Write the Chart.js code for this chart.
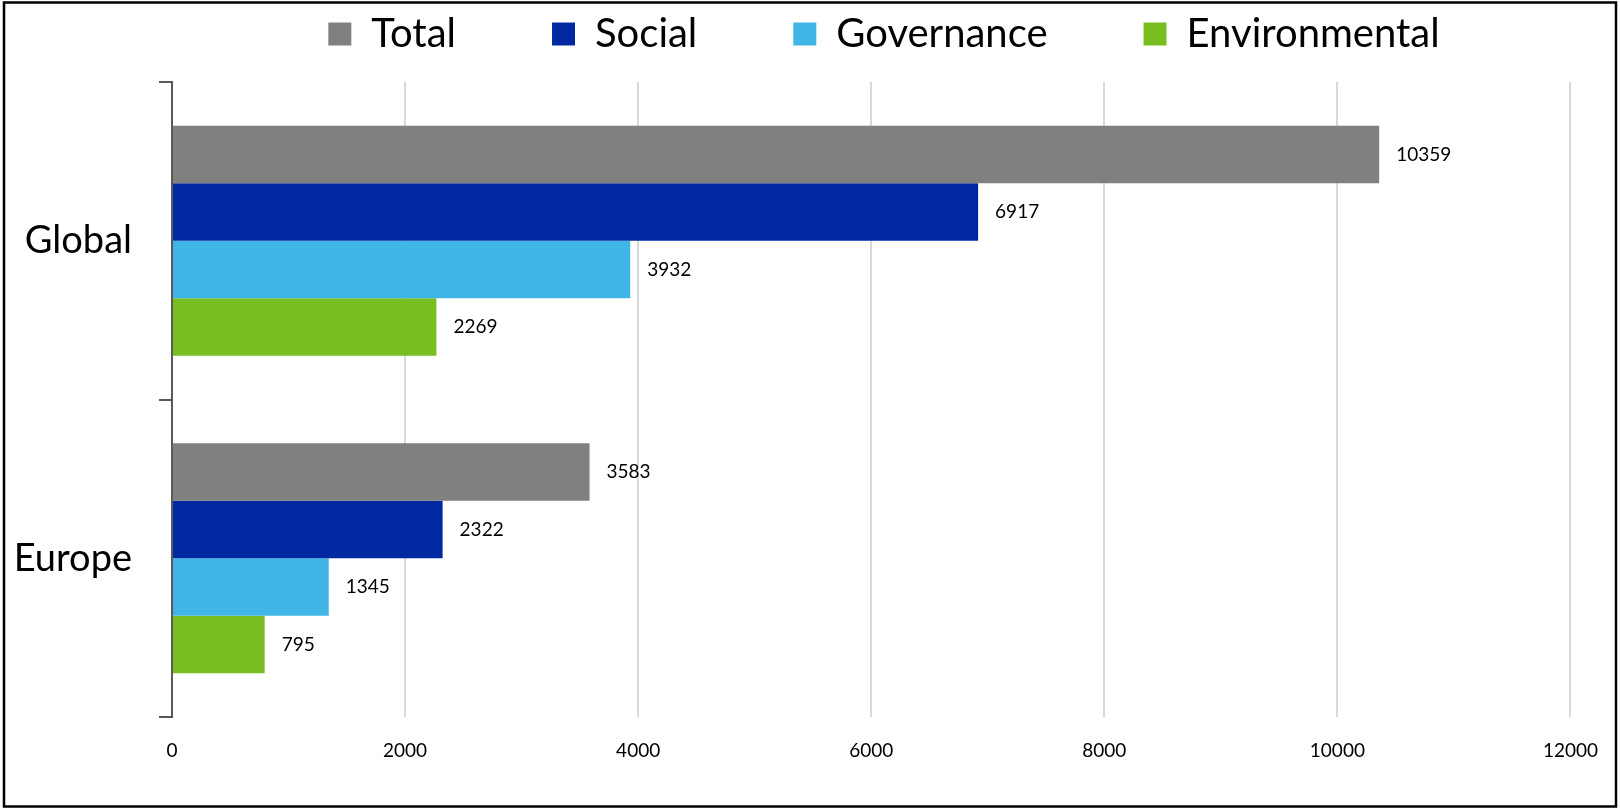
<!DOCTYPE html>
<html>
<head>
<meta charset="utf-8">
<script src="https://cdn.jsdelivr.net/npm/chart.js@4.4.0/dist/chart.umd.min.js"></script>
<style>
    body { margin: 0; background: #fff; }
    #wrap { width: 1620px; height: 810px; position: relative; }
</style>
</head>
<body>
<div id="wrap"><canvas id="myChart" width="1620" height="810"></canvas></div>
<script>
// chart data
var regions = ['Global', 'Europe'];
var seriesNames = ['Total', 'Social', 'Governance', 'Environmental'];
var totalValues = [10359, 3583];
var socialValues = [6917, 2322];
var governanceValues = [3932, 1345];
var environmentalValues = [2269, 795];
var xTicks = [0, 2000, 4000, 6000, 8000, 10000, 12000];

var colors = ['#808080', '#0028A0', '#41B6E6', '#78BE20'];
var values = [totalValues, socialValues, governanceValues, environmentalValues];

var datasets = [];
for (var i = 0; i < seriesNames.length; i++) {
    datasets.push({
        label: seriesNames[i],
        data: values[i],
        backgroundColor: colors[i],
        borderWidth: 0,
        categoryPercentage: 0.725,
        barPercentage: 1.0
    });
}

// value labels at the end of each bar
var barLabels = {
    id: 'barLabels',
    afterDatasetsDraw: function (chart) {
        var ctx = chart.ctx;
        ctx.save();
        ctx.font = '19px Lato';
        ctx.fillStyle = '#000';
        ctx.textAlign = 'left';
        ctx.textBaseline = 'middle';
        chart.data.datasets.forEach(function (ds, di) {
            var meta = chart.getDatasetMeta(di);
            meta.data.forEach(function (bar, j) {
                ctx.fillText(ds.data[j], bar.x + 17, bar.y);
            });
        });
        ctx.restore();
    }
};

// move legend to the right and up, draw the outer frame
var frame = {
    id: 'frame',
    afterLayout: function (chart) {
        var lg = chart.legend;
        lg.left += 98;
        lg.right += 98;
        lg.top = 34 - 96 - 20;
    },
    afterDraw: function (chart) {
        var ctx = chart.ctx;
        ctx.save();
        ctx.strokeStyle = '#000';
        ctx.lineWidth = 2.5;
        ctx.strokeRect(4, 2.5, 1612, 804);
        ctx.restore();
    }
};

const ctx = document.getElementById('myChart');
const myChart = new Chart(ctx, {
    type: 'bar',
    data: {
        labels: regions,
        datasets: datasets
    },
    plugins: [barLabels, frame],
    options: {
        indexAxis: 'y',
        responsive: false,
        animation: false,
        layout: {
            padding: { left: 0, right: 48, top: 0, bottom: 0 }
        },
        plugins: {
            tooltip: { enabled: false },
            legend: {
                position: 'top',
                maxHeight: 82,
                labels: {
                    boxWidth: 23,
                    boxHeight: 23,
                    padding: 96,
                    color: '#000',
                    font: { family: 'Lato', size: 40 }
                }
            }
        },
        scales: {
            x: {
                min: 0,
                max: 12000,
                afterBuildTicks: function (scale) {
                    scale.ticks = xTicks.map(function (v) { return { value: v }; });
                },
                afterFit: function (scale) {
                    scale.height = 93;
                },
                grid: {
                    color: '#d9d9d9',
                    lineWidth: 2,
                    drawTicks: false
                },
                border: { display: false },
                ticks: {
                    padding: 22,
                    color: '#000',
                    font: { family: 'Lato', size: 19 },
                    callback: function (value) { return String(value); }
                }
            },
            y: {
                afterFit: function (scale) {
                    scale.width = 172;
                },
                grid: {
                    drawOnChartArea: false,
                    drawTicks: true,
                    tickLength: 13,
                    color: '#595959',
                    lineWidth: 2
                },
                border: { display: true, color: '#595959', width: 2 },
                ticks: {
                    padding: 27,
                    color: '#000',
                    font: { family: 'Lato', size: 38 }
                }
            }
        }
    }
});
</script>
</body>
</html>
